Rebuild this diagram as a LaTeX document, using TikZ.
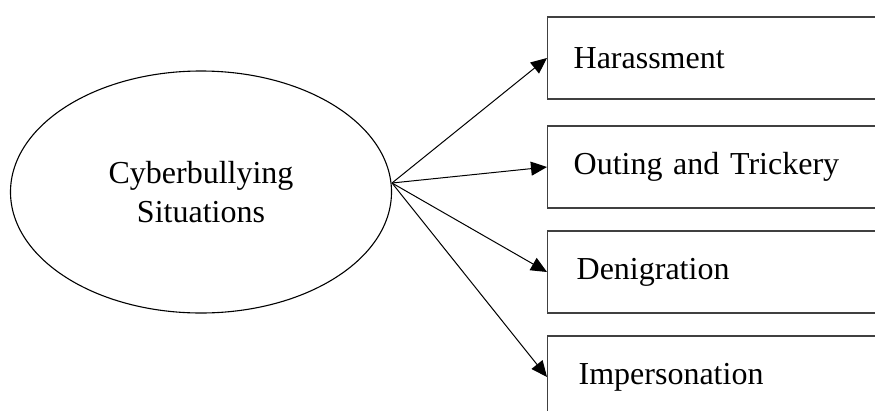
\documentclass[tikz,border=0pt]{standalone}
\usepackage{fontspec}
\setmainfont{Liberation Serif}
\usetikzlibrary{arrows.meta,shapes.geometric}
\begin{document}
\begin{tikzpicture}[
    x=1pt, y=-1pt,
    font=\fontsize{32}{39}\selectfont,
    situation/.style={ellipse, draw=black, line width=1.1pt, minimum width=381pt, minimum height=242pt, align=center, inner sep=0pt},
    kind/.style={rectangle, draw=black!75, line width=1.3pt, anchor=west, minimum height=82pt, text width=290pt, inner xsep=26pt, align=left},
    arrow/.style={-{Triangle[length=16pt,width=14pt]}, line width=1pt}
]

\clip (0,0) rectangle (875,410);

\node[situation] (S) at (201,192) {Cyberbullying\\Situations};
\coordinate (hub) at (392,183);

\node[kind] (b1) at (547,58) {Harassment};
\node[kind] (b2) at (547,167) {Outing and Trickery};
\node[kind] (b3) at (547,272) {\hspace{3pt}Denigration};
\node[kind] (b4) at (547,377) {\hspace{5pt}Impersonation};

\draw[arrow] (hub)--(b1.west);
\draw[arrow] (hub)--(b2.west);
\draw[arrow] (hub)--(b3.west);
\draw[arrow] (hub)--(b4.west);

\end{tikzpicture}
\end{document}
